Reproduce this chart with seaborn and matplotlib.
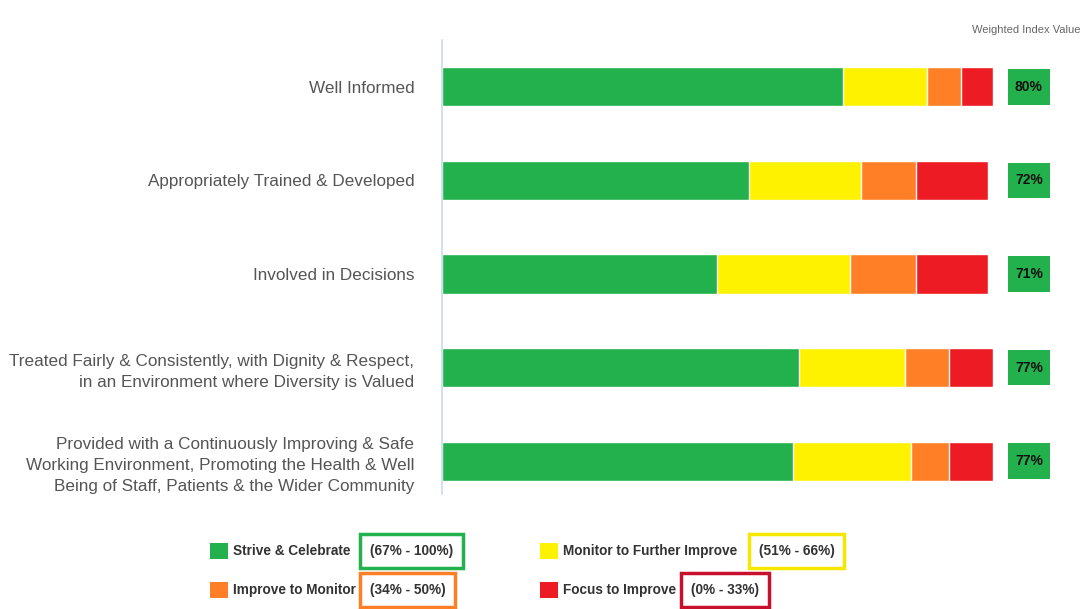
import numpy as np
import pandas as pd
import matplotlib
matplotlib.use('Agg')
import matplotlib.pyplot as plt
import matplotlib.patches as mpatches
import seaborn as sns

# ── Data ──────────────────────────────────────────────────────
categories = [
    'Well Informed',
    'Appropriately Trained & Developed',
    'Involved in Decisions',
    'Treated Fairly & Consistently, with Dignity & Respect,\nin an Environment where Diversity is Valued',
    'Provided with a Continuously Improving & Safe\nWorking Environment, Promoting the Health & Well\nBeing of Staff, Patients & the Wider Community',
]
strive  = [72.8, 55.7, 49.9, 64.8, 63.7]
monitor = [15.2, 20.3, 24.1, 19.2, 21.4]
improve = [6.2, 10.0, 12.0, 8.0, 6.9]
focus   = [5.8, 13.1, 13.1, 8.0, 8.0]
index_values = [80, 72, 71, 77, 77]

band_names  = ['Strive & Celebrate', 'Monitor to Further Improve',
               'Improve to Monitor', 'Focus to Improve']
band_ranges = ['(67% - 100%)', '(51% - 66%)', '(34% - 50%)', '(0% - 33%)']

GREEN, YELLOW, ORANGE, RED = '#22b14c', '#fff200', '#ff7f27', '#ed1c24'
FONT = ['Liberation Sans Narrow', 'Liberation Sans', 'DejaVu Sans']

sns.set_theme(style='white')
plt.rcParams['font.family'] = FONT

df = pd.DataFrame({'label': categories, 'strive': strive, 'monitor': monitor,
                   'improve': improve, 'focus': focus})
df['c1'] = df['strive']
df['c2'] = df['c1'] + df['monitor']
df['c3'] = df['c2'] + df['improve']
df['c4'] = df['c3'] + df['focus']

fig = plt.figure(figsize=(10.87, 6.09), dpi=100)
ax = fig.add_axes([442 / 1087, 1 - 508 / 609, 551 / 1087, 468 / 609])

# stacked bars: longest cumulative first, shorter ones drawn on top
for col, colr in [('c4', RED), ('c3', ORANGE), ('c2', YELLOW), ('c1', GREEN)]:
    sns.barplot(data=df, x=col, y='label', order=categories, orient='h',
                color=colr, saturation=1, width=0.42, edgecolor='white',
                linewidth=1, ax=ax)

ax.set_xlim(0, 100)
ax.set_xlabel('')
ax.set_ylabel('')
ax.set_xticks([])
ax.tick_params(axis='y', length=0, pad=20, labelsize=12.3, labelcolor='#555555')
for lbl in ax.get_yticklabels():
    lbl.set_linespacing(1.5)
for s in ['top', 'right', 'bottom']:
    ax.spines[s].set_visible(False)
ax.spines['left'].set_color('#c9d9ea')
ax.spines['left'].set_linewidth(1.2)
ax.spines['left'].set_bounds(-0.5, 4.35)

# weighted index boxes
for i, v in enumerate(index_values):
    ax.add_patch(mpatches.Rectangle((102.7, i - 0.19), 7.6, 0.38,
                                    facecolor=GREEN, edgecolor='none',
                                    clip_on=False))
    ax.text(106.5, i, f'{v}%', ha='center', va='center', fontsize=10,
            fontweight='bold', color='#111111', clip_on=False)

fig.text(1080 / 1087, 1 - 30 / 609, 'Weighted Index Value', ha='right',
         va='center', fontsize=8, color='#666666')

# legend with range boxes
legend_items = [
    (210, 551, GREEN, band_names[0], 370, band_ranges[0], GREEN),
    (540, 551, YELLOW, band_names[1], 759, band_ranges[1], '#f7e600'),
    (210, 590, ORANGE, band_names[2], 370, band_ranges[2], ORANGE),
    (540, 590, RED, band_names[3], 691, band_ranges[3], '#c8102e'),
]
for sx, sy, colr, name, bx, rng, bcol in legend_items:
    fig.patches.append(mpatches.Rectangle((sx / 1087, 1 - (sy + 8) / 609),
                                          18 / 1087, 16 / 609,
                                          facecolor=colr, edgecolor='none',
                                          transform=fig.transFigure))
    fig.text((sx + 23) / 1087, 1 - sy / 609, name, ha='left', va='center',
             fontsize=9.8, fontweight='bold', color='#333333')
    fig.text(bx / 1087, 1 - sy / 609, rng, ha='left', va='center',
             fontsize=9.8, fontweight='bold', color='#333333',
             bbox=dict(boxstyle='square,pad=0.7', facecolor='white',
                       edgecolor=bcol, linewidth=2.5))

fig.savefig('out.png', dpi=100, facecolor='white')
